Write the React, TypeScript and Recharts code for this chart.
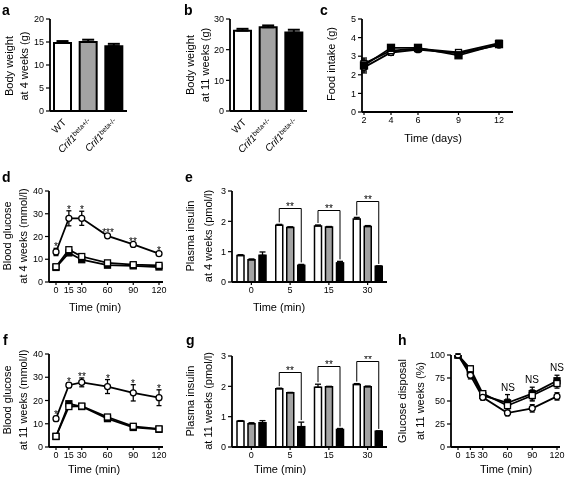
import React from 'react';
import { BarChart, Bar, Cell, LineChart, Line, XAxis, YAxis, ErrorBar, LabelList } from 'recharts';

const FONT = '"Liberation Sans", Arial, Helvetica, sans-serif';
const YW = 40;
const PAD = 10;
const BAR_GAP = 4;

// a, b: body weight
const genotypes = ['WT', 'Crif1beta+/-', 'Crif1beta-/-'];
const barFills = ['#ffffff', '#a3a3a3', '#000000'];
const weight4w = [14.8, 15.0, 14.1];
const weight4wErr = [0.4, 0.5, 0.5];
const weight11w = [26.2, 27.3, 25.6];
const weight11wErr = [0.6, 0.6, 0.9];

// c: food intake
const foodDays = [2, 4, 6, 9, 12];
const foodWT = [2.5, 3.45, 3.45, 3.05, 3.65];
const foodHet = [2.6, 3.3, 3.4, 3.2, 3.7];
const foodKO = [2.4, 3.2, 3.35, 3.15, 3.6];
const foodErr = [0.3, 0.15, 0.1, 0.1, 0.1];

// d, f: glucose tolerance
const gttTimes = [0, 15, 30, 60, 90, 120];
const gtt4wWT = [6.4, 12.8, 9.8, 7.4, 7.1, 6.6];
const gtt4wWTErr = [0.4, 0.6, 0.6, 0.4, 0.3, 0.3];
const gtt4wHet = [6.7, 14.2, 11.2, 8.4, 7.6, 7.3];
const gtt4wHetErr = [0.4, 0.8, 0.7, 0.5, 0.4, 0.4];
const gtt4wKO = [13.2, 28.0, 28.0, 20.3, 16.5, 12.5];
const gtt4wKOErr = [1.6, 3.3, 3.1, 0.9, 0.7, 0.8];
const gtt4wStars = ['*', '*', '*', '***', '**', '*'];

const gtt11wWT = [4.5, 18.6, 17.4, 12.2, 8.4, 7.6];
const gtt11wWTErr = [0.4, 0.8, 0.6, 0.6, 0.6, 0.5];
const gtt11wHet = [4.6, 17.4, 17.6, 12.9, 8.9, 7.8];
const gtt11wHetErr = [0.4, 0.7, 0.6, 0.6, 0.5, 0.5];
const gtt11wKO = [12.2, 26.6, 27.8, 26.0, 23.3, 21.2];
const gtt11wKOErr = [1.0, 1.0, 1.9, 3.0, 3.5, 3.4];
const gtt11wStars = ['*', '*', '**', '*', '*', '*'];

// e, g: plasma insulin
const insulinTimes = ['0', '5', '15', '30'];
const ins4wWT = [0.87, 1.87, 1.85, 2.08];
const ins4wWTErr = [0.03, 0.03, 0.03, 0.05];
const ins4wHet = [0.73, 1.8, 1.81, 1.83];
const ins4wHetErr = [0.03, 0.02, 0.02, 0.03];
const ins4wKO = [0.88, 0.55, 0.63, 0.52];
const ins4wKOErr = [0.11, 0.03, 0.05, 0.01];
const ins4wBracket = [null, 2.45, 2.39, 2.68];
const ins4wSig = ['', '**', '**', '**'];

const ins11wWT = [0.85, 1.92, 1.97, 2.06];
const ins11wWTErr = [0.02, 0.02, 0.1, 0.03];
const ins11wHet = [0.77, 1.79, 1.99, 1.99];
const ins11wHetErr = [0.03, 0.01, 0.01, 0.02];
const ins11wKO = [0.8, 0.67, 0.58, 0.52];
const ins11wKOErr = [0.07, 0.15, 0.03, 0.01];
const ins11wBracket = [null, 2.48, 2.66, 2.84];
const ins11wSig = ['', '**', '**', '**'];

// h: glucose disposal
const disposalWT = [100, 82, 56, 48, 58, 72];
const disposalWTErr = [1, 4, 4, 9, 7, 6];
const disposalHet = [100, 85, 58, 45, 56, 69];
const disposalHetErr = [1, 3, 3, 7, 6, 5];
const disposalKO = [100, 78, 54, 37, 42, 55];
const disposalKOErr = [1, 4, 3, 3, 4, 4];
const disposalNote = ['', '', '', 'NS', 'NS', 'NS'];

const weightRows = (vals: number[], errs: number[]) =>
  genotypes.map((name, i) => ({ name, value: vals[i], err: errs[i] }));

const insulinRows = (wt: number[], wtE: number[], het: number[], hetE: number[], ko: number[], koE: number[], br: any[], sig: string[]) =>
  insulinTimes.map((t, i) => ({ t, wt: wt[i], wtErr: wtE[i], het: het[i], hetErr: hetE[i], ko: ko[i], koErr: koE[i], bracket: br[i], sig: sig[i] }));

const gttRows = (wt: number[], wtE: number[], het: number[], hetE: number[], ko: number[], koE: number[], note: string[]) =>
  gttTimes.map((t, i) => ({ t, wt: wt[i], wtErr: wtE[i], het: het[i], hetErr: hetE[i], ko: ko[i], koErr: koE[i], note: note[i] }));

const foodRows = foodDays.map((t, i) => ({ t, wt: foodWT[i], het: foodHet[i], ko: foodKO[i], err: foodErr[i] }));

const AXIS = { stroke: '#000', strokeWidth: 1.8 };
const TICKLINE = { stroke: '#000', strokeWidth: 1.2 };
const TICKTEXT = { fontSize: 9, fill: '#000', fontFamily: FONT };

const frame = (x0: number, y0: number, x1: number, y1: number, bottom = 30) => ({
  left: x0 - YW,
  top: y0 - PAD,
  width: x1 - x0 + YW + PAD,
  height: y1 - y0 + PAD + bottom,
});

const GenotypeTick = (props: any) => {
  const { x, y, payload } = props;
  const label: string = payload.value;
  const m = label.match(/^Crif1(.*)$/);
  return (
    <g transform={`translate(${x + 4},${y + 4}) rotate(-45)`}>
      <text textAnchor="end" fontSize={10} fontFamily={FONT} fill="#000">
        {m ? (
          <>
            <tspan fontStyle="italic">Crif1</tspan>
            <tspan fontSize={7} dy={-3}>{m[1]}</tspan>
          </>
        ) : label}
      </text>
    </g>
  );
};

function WeightPanel({ box, rows, max, ticks }: any) {
  const f = frame(box[0], box[1], box[2], box[3], 50);
  return (
    <div style={{ position: 'absolute', left: f.left, top: f.top }}>
      <BarChart width={f.width} height={f.height} data={rows} margin={{ top: PAD, right: PAD, bottom: 0, left: 0 }}>
        <XAxis dataKey="name" interval={0} height={50} tick={<GenotypeTick />} axisLine={AXIS} tickLine={false} />
        <YAxis width={YW} domain={[0, max]} ticks={ticks} allowDataOverflow axisLine={AXIS} tickLine={TICKLINE} tick={TICKTEXT} tickSize={4} interval={0} />
        <Bar dataKey="value" barSize={17} stroke="#000" strokeWidth={2} isAnimationActive={false}>
          {rows.map((_: any, i: number) => <Cell key={i} fill={barFills[i]} />)}
          <ErrorBar dataKey={(d: any) => [0, d.err]} width={6} stroke="#000" strokeWidth={2} />
        </Bar>
      </BarChart>
    </div>
  );
}

const BracketBar = (props: any) => {
  const { x, y, width, height, payload, fill } = props;
  const base = y + height;
  const ppu = height / payload.ko;
  const step = width + BAR_GAP;
  const cKO = x + width / 2;
  const cWT = cKO - 2 * step;
  const yb = Math.round(base - payload.bracket * ppu) + 0.5;
  return (
    <g>
      <rect x={x} y={y} width={width} height={height} fill={fill} stroke="#000" strokeWidth={1.5} />
      {payload.bracket != null && (
        <>
          <polyline
            points={`${cWT},${base - (payload.wt + payload.wtErr) * ppu - 2} ${cWT},${yb} ${cKO},${yb} ${cKO},${base - (payload.ko + payload.koErr) * ppu - 2}`}
            fill="none"
            stroke="#000"
            strokeWidth={1}
          />
          <text x={Math.round((cWT + cKO) / 2)} y={yb + 1.5} textAnchor="middle" fontSize={10} fontFamily={FONT} fill="#000">
            {payload.sig}
          </text>
        </>
      )}
    </g>
  );
};

function InsulinPanel({ box, rows }: any) {
  const f = frame(box[0], box[1], box[2], box[3]);
  return (
    <div style={{ position: 'absolute', left: f.left, top: f.top }}>
      <BarChart width={f.width} height={f.height} data={rows} barGap={BAR_GAP} margin={{ top: PAD, right: PAD, bottom: 0, left: 0 }}>
        <XAxis dataKey="t" interval={0} height={30} axisLine={AXIS} tickLine={TICKLINE} tick={TICKTEXT} tickSize={3} />
        <YAxis width={YW} domain={[0, 3]} ticks={[0, 1, 2, 3]} allowDataOverflow axisLine={AXIS} tickLine={TICKLINE} tick={TICKTEXT} tickSize={4} interval={0} />
        <Bar dataKey="wt" barSize={7} fill="#ffffff" stroke="#000" strokeWidth={1.5} isAnimationActive={false}>
          <ErrorBar dataKey={(d: any) => [0, d.wtErr]} width={3} stroke="#000" strokeWidth={1.3} />
        </Bar>
        <Bar dataKey="het" barSize={7} fill="#a3a3a3" stroke="#000" strokeWidth={1.5} isAnimationActive={false}>
          <ErrorBar dataKey={(d: any) => [0, d.hetErr]} width={3} stroke="#000" strokeWidth={1.3} />
        </Bar>
        <Bar dataKey="ko" barSize={7} fill="#000000" shape={<BracketBar />} isAnimationActive={false}>
          <ErrorBar dataKey={(d: any) => [0, d.koErr]} width={3} stroke="#000" strokeWidth={1.3} />
        </Bar>
      </BarChart>
    </div>
  );
}

const squareDot = (filled: boolean, s = 6) => (p: any) => (
  <rect key={p.index} x={p.cx - s / 2} y={p.cy - s / 2} width={s} height={s} fill={filled ? '#000' : '#fff'} stroke="#000" strokeWidth={1.3} />
);
const circleDot = (r = 3) => (p: any) => (
  <circle key={p.index} cx={p.cx} cy={p.cy} r={r} fill="#fff" stroke="#000" strokeWidth={1.3} />
);

const NoteLabel = (props: any) => {
  const vb = props.viewBox || {};
  const x = props.x ?? vb.x;
  const y = props.y ?? vb.y;
  if (!props.value) return null;
  return (
    <text x={Math.round(x)} y={Math.round(y + props.shift)} textAnchor="middle" fontSize={props.size} fontFamily={FONT} fill="#000">
      {props.value}
    </text>
  );
};

function LinePanel({ box, rows, xDomain, xTicks, xPad, yDomain, yTicks, series, capW, note }: any) {
  const f = frame(box[0], box[1], box[2], box[3]);
  return (
    <div style={{ position: 'absolute', left: f.left, top: f.top }}>
      <LineChart width={f.width} height={f.height} data={rows} margin={{ top: PAD, right: PAD, bottom: 0, left: 0 }}>
        <XAxis type="number" dataKey="t" domain={xDomain} ticks={xTicks} padding={xPad} interval={0} height={30} axisLine={AXIS} tickLine={TICKLINE} tick={TICKTEXT} tickSize={3} />
        <YAxis width={YW} domain={yDomain} ticks={yTicks} allowDataOverflow axisLine={AXIS} tickLine={TICKLINE} tick={TICKTEXT} tickSize={4} interval={0} />
        {series.map((s: any) => (
          <Line key={s.key} dataKey={s.key} stroke="#000" strokeWidth={1.8} dot={s.dot} activeDot={false} isAnimationActive={false}>
            <ErrorBar dataKey={s.errKey} width={capW} stroke="#000" strokeWidth={1.3} direction="y" />
          </Line>
        ))}
        {note && (
          <Line dataKey={note.top} stroke="none" dot={false} activeDot={false} isAnimationActive={false}>
            <LabelList dataKey="note" content={<NoteLabel shift={note.shift} size={note.size} />} />
          </Line>
        )}
      </LineChart>
    </div>
  );
}

const gttSeries = [
  { key: 'wt', errKey: 'wtErr', dot: squareDot(true) },
  { key: 'het', errKey: 'hetErr', dot: squareDot(false) },
  { key: 'ko', errKey: 'koErr', dot: circleDot() },
];
const foodSeries = [
  { key: 'ko', errKey: 'err', dot: circleDot() },
  { key: 'het', errKey: 'err', dot: squareDot(false) },
  { key: 'wt', errKey: 'err', dot: squareDot(true, 7) },
];

function Labels() {
  const letter = (x: number, y: number, s: string) => (
    <text x={x} y={y} fontSize={14} fontWeight="bold" fontFamily={FONT}>{s}</text>
  );
  const title = (x: number, y: number, s: string) => (
    <text x={x} y={y} fontSize={11} textAnchor="middle" fontFamily={FONT}>{s}</text>
  );
  const ytitle = (x: number, y: number, s: string) => (
    <text x={x} y={y} fontSize={11} textAnchor="middle" fontFamily={FONT} transform={`rotate(-90 ${x} ${y})`}>{s}</text>
  );
  return (
    <svg width={565} height={478} style={{ position: 'absolute', left: 0, top: 0, pointerEvents: 'none' }}>
      {letter(2, 15, 'a')}
      {letter(184, 15, 'b')}
      {letter(320, 15, 'c')}
      {letter(2, 182, 'd')}
      {letter(185, 182, 'e')}
      {letter(3, 345, 'f')}
      {letter(186, 345, 'g')}
      {letter(398, 345, 'h')}

      {ytitle(13, 66, 'Body weight')}
      {ytitle(28, 66, 'at 4 weeks (g)')}
      {ytitle(194, 65, 'Body weight')}
      {ytitle(209, 65, 'at 11 weeks (g)')}
      {ytitle(335, 64, 'Food intake (g)')}
      {ytitle(11, 236, 'Blood glucose')}
      {ytitle(27, 236, 'at 4 weeks (mmol/l)')}
      {ytitle(194, 236, 'Plasma insulin')}
      {ytitle(212, 236, 'at 4 weeks (pmol/l)')}
      {ytitle(11, 400, 'Blood glucose')}
      {ytitle(27, 400, 'at 11 weeks (mmol/l)')}
      {ytitle(194, 401, 'Plasma insulin')}
      {ytitle(212, 401, 'at 11 weeks (pmol/l)')}
      {ytitle(406, 401, 'Glucose disposal')}
      {ytitle(424, 401, 'at 11 weeks (%)')}

      {title(433, 142, 'Time (days)')}
      {title(95, 311, 'Time (min)')}
      {title(279, 311, 'Time (min)')}
      {title(94, 473, 'Time (min)')}
      {title(280, 473, 'Time (min)')}
      {title(506, 473, 'Time (min)')}
    </svg>
  );
}

export default function App() {
  const topKO = (d: any) => d.ko + d.koErr;
  const topAll = (d: any) => Math.max(d.wt + d.wtErr, d.het + d.hetErr, d.ko + d.koErr);
  return (
    <div style={{ position: 'absolute', left: 0, top: 0, width: 565, height: 478, overflow: 'hidden', background: '#fff', fontFamily: FONT, willChange: 'transform' }}>
      <WeightPanel box={[50, 19, 127, 111]} rows={weightRows(weight4w, weight4wErr)} max={20} ticks={[0, 5, 10, 15, 20]} />
      <WeightPanel box={[230, 19, 307, 111]} rows={weightRows(weight11w, weight11wErr)} max={30} ticks={[0, 10, 20, 30]} />
      <LinePanel
        box={[362, 19, 513, 112]}
        rows={foodRows}
        xDomain={[2, 12]}
        xTicks={foodDays}
        xPad={{ left: 2, right: 14 }}
        yDomain={[0, 5]}
        yTicks={[0, 1, 2, 3, 4, 5]}
        series={foodSeries}
        capW={3}
      />
      <LinePanel
        box={[49, 191, 163, 282]}
        rows={gttRows(gtt4wWT, gtt4wWTErr, gtt4wHet, gtt4wHetErr, gtt4wKO, gtt4wKOErr, gtt4wStars)}
        xDomain={[0, 120]}
        xTicks={gttTimes}
        xPad={{ left: 7, right: 4 }}
        yDomain={[0, 40]}
        yTicks={[0, 10, 20, 30, 40]}
        series={gttSeries}
        capW={2.5}
        note={{ top: topKO, shift: 2, size: 10 }}
      />
      <InsulinPanel
        box={[232, 191, 387, 282]}
        rows={insulinRows(ins4wWT, ins4wWTErr, ins4wHet, ins4wHetErr, ins4wKO, ins4wKOErr, ins4wBracket, ins4wSig)}
      />
      <LinePanel
        box={[49, 354, 163, 447]}
        rows={gttRows(gtt11wWT, gtt11wWTErr, gtt11wHet, gtt11wHetErr, gtt11wKO, gtt11wKOErr, gtt11wStars)}
        xDomain={[0, 120]}
        xTicks={gttTimes}
        xPad={{ left: 7, right: 4 }}
        yDomain={[0, 40]}
        yTicks={[0, 10, 20, 30, 40]}
        series={gttSeries}
        capW={2.5}
        note={{ top: topKO, shift: 2, size: 10 }}
      />
      <InsulinPanel
        box={[232, 356, 387, 447]}
        rows={insulinRows(ins11wWT, ins11wWTErr, ins11wHet, ins11wHetErr, ins11wKO, ins11wKOErr, ins11wBracket, ins11wSig)}
      />
      <LinePanel
        box={[451, 355, 560, 447]}
        rows={gttRows(disposalWT, disposalWTErr, disposalHet, disposalHetErr, disposalKO, disposalKOErr, disposalNote)}
        xDomain={[0, 120]}
        xTicks={gttTimes}
        xPad={{ left: 7, right: 3 }}
        yDomain={[0, 100]}
        yTicks={[0, 25, 50, 75, 100]}
        series={gttSeries}
        capW={2.5}
        note={{ top: topAll, shift: -4, size: 10 }}
      />
      <Labels />
    </div>
  );
}
